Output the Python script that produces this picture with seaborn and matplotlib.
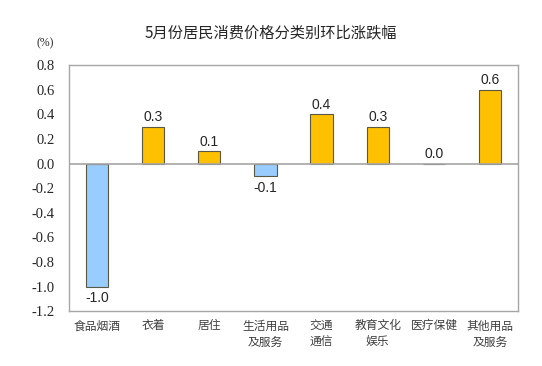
import pandas as pd
import seaborn as sns
import matplotlib.pyplot as plt

categories = ['食品烟酒', '衣着', '居住', '生活用品\n及服务', '交通\n通信', '教育文化\n娱乐', '医疗保健', '其他用品\n及服务']
values = [-1.0, 0.3, 0.1, -0.1, 0.4, 0.3, 0.0, 0.6]
yticks = [0.8, 0.6, 0.4, 0.2, 0.0, -0.2, -0.4, -0.6, -0.8, -1.0, -1.2]

df = pd.DataFrame({'cat': categories, 'val': values})
df['sign'] = ['neg' if v < 0 else 'pos' for v in values]

sns.set_style('white')
plt.rcParams['font.family'] = ['Noto Sans CJK SC', 'DejaVu Sans']
plt.rcParams['font.serif'] = ['Liberation Serif', 'DejaVu Serif']

fig = plt.figure(figsize=(5.42, 3.66), dpi=100)
ax = fig.add_axes([0.127, 0.150, 0.829, 0.672])
sns.barplot(data=df, x='cat', y='val', hue='sign', palette={'pos': '#FFC000', 'neg': '#99CCFF'},
            saturation=1, width=0.4, dodge=False, legend=False,
            edgecolor='#595943', linewidth=0.8, ax=ax)

ax.set_ylim(-1.2, 0.8)
ax.set_xlim(-0.5, len(categories) - 0.5)
ax.set_yticks(yticks)
ax.set_yticklabels([f'{t:.1f}' for t in yticks], fontfamily='serif', fontsize=10.5)
ax.set_xticks(range(len(categories)))
ax.set_xticklabels(categories, fontsize=8.5, color='#404040', linespacing=1.3)
ax.tick_params(axis='x', length=0, pad=6)
ax.tick_params(axis='y', length=0, pad=10)
ax.set_xlabel('')
ax.set_ylabel('')
ax.axhline(0, color='#a6a6a6', linewidth=1.2)
for s in ax.spines.values():
    s.set_color('#a6a6a6')
    s.set_linewidth(1.0)

for i, v in enumerate(values):
    if v < 0:
        ax.text(i, v - 0.04, f'{v:.1f}', ha='center', va='top', family='Liberation Sans', fontsize=10)
    else:
        ax.text(i, v + 0.02, f'{v:.1f}', ha='center', va='bottom', family='Liberation Sans', fontsize=10)

fig.text(0.5, 0.91, '5月份居民消费价格分类别环比涨跌幅', ha='center', va='center', fontsize=11)
fig.text(0.083, 0.883, '(%)', ha='center', va='center', fontfamily='serif', fontsize=8.5)

plt.savefig('out.png', dpi=100)
